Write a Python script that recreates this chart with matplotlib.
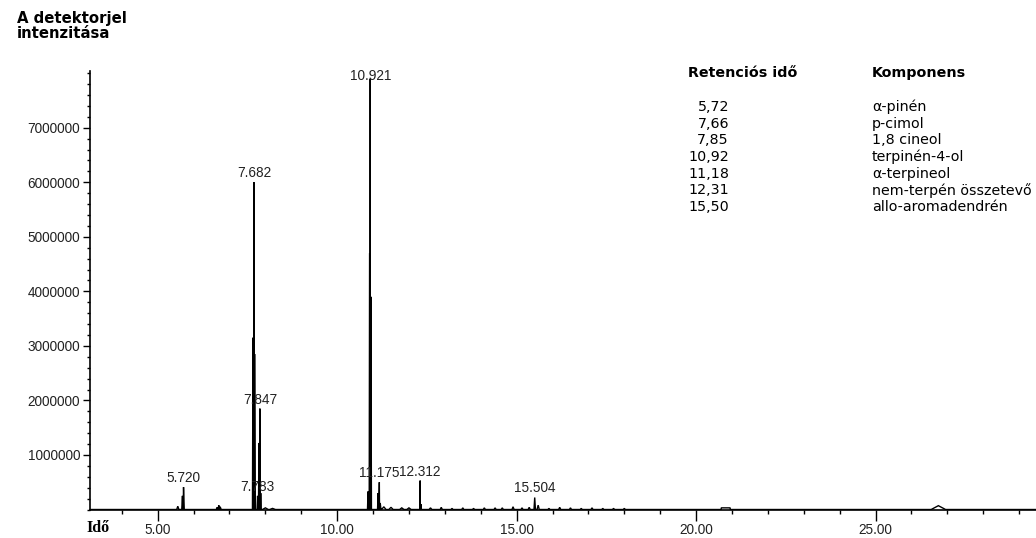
import matplotlib
matplotlib.use("Agg")
import matplotlib.pyplot as plt
from matplotlib.ticker import MultipleLocator, FixedLocator

# ---------------- data ----------------
# main peaks of the chromatogram: retention time (min), intensity, half width (min)
peak_rt = [5.56, 5.69, 5.72, 6.66, 6.70, 6.74,
           7.655, 7.682, 7.70, 7.783, 7.82, 7.847, 7.87,
           10.86, 10.905, 10.921, 10.94, 11.14, 11.175, 11.20,
           12.30, 12.312, 12.33]
peak_h = [0.06e6, 0.25e6, 0.41e6, 0.04e6, 0.08e6, 0.05e6,
          3.15e6, 6.00e6, 2.85e6, 0.25e6, 1.22e6, 1.85e6, 0.30e6,
          0.33e6, 4.70e6, 7.90e6, 3.90e6, 0.30e6, 0.50e6, 0.12e6,
          0.30e6, 0.53e6, 0.10e6]
peak_hw = [0.03, 0.02, 0.02, 0.03, 0.03, 0.03,
           0.015, 0.015, 0.015, 0.015, 0.012, 0.012, 0.015,
           0.015, 0.012, 0.015, 0.015, 0.015, 0.015, 0.02,
           0.012, 0.012, 0.015]

# minor bumps / noise along the baseline
bump_rt = [8.0, 8.2, 11.3, 11.5, 11.8, 12.0, 12.6, 12.9, 13.2, 13.5, 13.8, 14.1, 14.4,
           14.6, 14.9, 15.15, 15.35, 15.504, 15.6, 15.9, 16.2, 16.5, 16.8, 17.1,
           17.4, 17.7, 18.0, 26.75]
bump_h = [0.03e6, 0.02e6, 0.05e6, 0.04e6, 0.03e6, 0.03e6, 0.03e6, 0.04e6, 0.02e6,
          0.03e6, 0.02e6, 0.03e6, 0.03e6, 0.03e6, 0.05e6, 0.03e6, 0.04e6, 0.22e6,
          0.08e6, 0.02e6, 0.04e6, 0.03e6, 0.02e6, 0.03e6, 0.02e6, 0.02e6, 0.02e6,
          0.07e6]
bump_hw = [0.08, 0.08, 0.06, 0.06, 0.06, 0.06, 0.04, 0.03, 0.03, 0.03, 0.03, 0.03, 0.03,
           0.03, 0.03, 0.03, 0.03, 0.02, 0.03, 0.03, 0.03, 0.03, 0.03, 0.03,
           0.03, 0.03, 0.03, 0.2]

# raised flat segment of the baseline (start, end, level)
plateau = [(20.70, 20.95, 0.03e6)]

# labelled peaks
label_rt = [5.720, 7.682, 7.783, 7.847, 10.921, 11.175, 12.312, 15.504]
label_txt = ["5.720", "7.682", "7.783", "7.847", "10.921", "11.175", "12.312", "15.504"]
label_h = [0.41e6, 6.00e6, 0.25e6, 1.85e6, 7.90e6, 0.50e6, 0.53e6, 0.22e6]

# table
table_rt = ["5,72", "7,66", "7,85", "10,92", "11,18", "12,31", "15,50"]
table_comp = ["α-pinén", "p-cimol", "1,8 cineol", "terpinén-4-ol", "α-terpineol",
              "nem-terpén összetevő", "allo-aromadendrén"]

x_range = (3.114, 29.47)
y_range = (0, 8.04e6)
y_major = [1e6, 2e6, 3e6, 4e6, 5e6, 6e6, 7e6]
x_major = [5, 10, 15, 20, 25]

# ---------------- build trace ----------------
verts = []
for t, h, w in zip(peak_rt, peak_h, peak_hw):
    verts += [(t - w, 0.0), (t, h), (t + w, 0.0)]
for t, h, w in zip(bump_rt, bump_h, bump_hw):
    verts += [(t - w, 0.0), (t, h), (t + w, 0.0)]
for a, b, lv in plateau:
    verts += [(a, 0.0), (a, lv), (b, lv), (b, 0.0)]
verts.sort(key=lambda p: p[0])
xs = [x_range[0]] + [p[0] for p in verts] + [x_range[1]]
ys = [0.0] + [p[1] for p in verts] + [0.0]

# ---------------- plot ----------------
W, H = 1036, 538
fig = plt.figure(figsize=(W / 100, H / 100), dpi=100)
ax = fig.add_axes([90 / W, 1 - 509.5 / H, 1 - 90 / W, (509.5 - 71) / H])
ax.plot(xs, ys, color="black", lw=1.0, solid_joinstyle="miter")
ax.set_xlim(*x_range)
ax.set_ylim(*y_range)

for s in ("top", "right"):
    ax.spines[s].set_visible(False)
for s in ("left", "bottom"):
    ax.spines[s].set_linewidth(1.2)

tick_font = dict(family="Liberation Sans", size=9.8)
ax.yaxis.set_major_locator(FixedLocator(y_major))
ax.yaxis.set_minor_locator(MultipleLocator(0.2e6))
ax.set_yticklabels([f"{int(v)}" for v in y_major], **tick_font, color="#222222")
ax.xaxis.set_major_locator(FixedLocator(x_major))
ax.xaxis.set_minor_locator(MultipleLocator(1))
ax.set_xticklabels([f"{v:.2f}" for v in x_major], **tick_font, color="#222222")
ax.tick_params(axis="y", which="major", length=5, width=1, pad=2)
ax.tick_params(axis="y", which="minor", length=2.5, width=1)
ax.tick_params(axis="x", which="major", length=8, width=1, pad=1.5)
ax.tick_params(axis="x", which="minor", length=3, width=1)

for t, txt, h in zip(label_rt, label_txt, label_h):
    if h > 7.5e6:
        ax.text(t, 7.95e6, txt, ha="center", va="center", **tick_font, color="#222222")
    else:
        ax.annotate(txt, (t, h), xytext=(0, 1.5), textcoords="offset points",
                    ha="center", va="bottom", **tick_font, color="#222222")

# titles
fig.text(17 / W, 1 - 18 / H, "A detektorjel", ha="left", va="center",
         family="DejaVu Sans", weight="bold", size=10.7)
fig.text(17 / W, 1 - 33 / H, "intenzitása", ha="left", va="center",
         family="DejaVu Sans", weight="bold", size=10.7)
fig.text(86 / W, 1 - 528 / H, "Idő", ha="left", va="center",
         family="Liberation Serif", weight="bold", size=11.5)

# table
tab_font = dict(family="DejaVu Sans", size=10.3)
fig.text(688 / W, 1 - 73 / H, "Retenciós idő", ha="left", va="center", weight="bold", **tab_font)
fig.text(872 / W, 1 - 73 / H, "Komponens", ha="left", va="center", weight="bold", **tab_font)
for i, (r, c) in enumerate(zip(table_rt, table_comp)):
    y = 1 - (107 + i * 16.7) / H
    fig.text(729 / W, y, r, ha="right", va="center", **tab_font)
    fig.text(872 / W, y, c, ha="left", va="center", **tab_font)

fig.savefig("out.png", dpi=100)
